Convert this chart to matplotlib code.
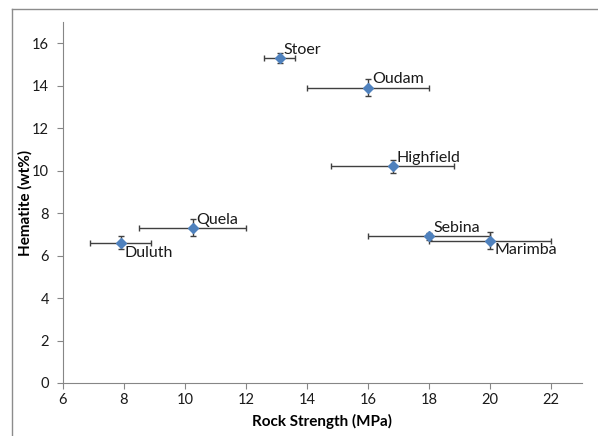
import matplotlib
matplotlib.use("Agg")
import matplotlib.pyplot as plt
from matplotlib.lines import Line2D

names = ["Stoer", "Oudam", "Highfield", "Quela", "Duluth", "Sebina", "Marimba"]
strength = [13.1, 16.0, 16.8, 10.25, 7.9, 18.0, 20.0]
hematite = [15.3, 13.9, 10.2, 7.3, 6.6, 6.9, 6.7]
strength_err = [0.5, 2.0, 2.0, 1.75, 1.0, 2.0, 2.0]
hematite_err = [0.25, 0.4, 0.3, 0.4, 0.3, 0.15, 0.4]
label_pos = ["above", "above", "above", "above", "below", "above", "below"]

plt.rcParams['font.family'] = ['Lato', 'DejaVu Sans']

W, H = 598, 436
fig = plt.figure(figsize=(W / 100, H / 100), dpi=100)

# chart area border (only left and top edges fall inside the image)
bx, by = 11.5 / W, 1 - 9.5 / H
fig.add_artist(Line2D([bx, bx], [0, by], transform=fig.transFigure,
                      color='#8c8c8c', linewidth=1.0))
fig.add_artist(Line2D([bx, 1], [by, by], transform=fig.transFigure,
                      color='#8c8c8c', linewidth=1.0))

ax = fig.add_axes([0.105, 0.1216, 0.868, 0.828])

ax.errorbar(strength, hematite, xerr=strength_err, yerr=hematite_err,
            fmt='D', color='#4F81BD', markersize=5.5, ecolor='#404040',
            elinewidth=1.0, capsize=2, capthick=1.0, zorder=3)

for n, x, y, p in zip(names, strength, hematite, label_pos):
    if p == "above":
        ax.annotate(n, (x, y), xytext=(3, 1), textcoords='offset points',
                    ha='left', va='bottom', fontsize=11.5, color='#1a1a1a')
    else:
        ax.annotate(n, (x, y), xytext=(3, -2), textcoords='offset points',
                    ha='left', va='top', fontsize=11.5, color='#1a1a1a')

ax.set_xlim(6, 23)
ax.set_ylim(0, 17)
ax.set_xticks(range(6, 23, 2))
ax.set_yticks(range(0, 17, 2))
ax.set_xlabel("Rock Strength (MPa)", fontsize=11, fontweight='bold', labelpad=5)
ax.set_ylabel("Hematite (wt%)", fontsize=11, fontweight='bold')
ax.yaxis.set_label_coords(-0.058, 0.5)

for s in ['top', 'right']:
    ax.spines[s].set_visible(False)
for s in ['left', 'bottom']:
    ax.spines[s].set_color('#868686')
    ax.spines[s].set_linewidth(0.8)
ax.tick_params(axis='both', colors='#868686', labelcolor='#1a1a1a',
               labelsize=10.5, length=4, width=0.8, direction='out')
ax.tick_params(axis='y', pad=6)

fig.savefig("out.png", dpi=100)
